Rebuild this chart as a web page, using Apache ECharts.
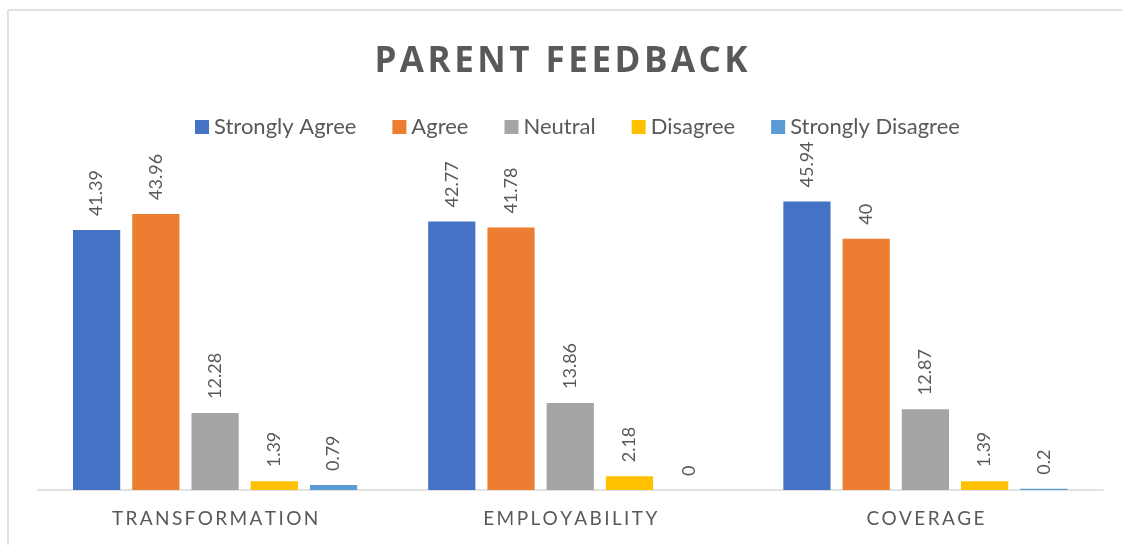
<!DOCTYPE html>
<html>
<head>
<meta charset="utf-8">
<script src="https://cdn.jsdelivr.net/npm/echarts@6/dist/echarts.min.js"></script>
<style>
html,body{margin:0;padding:0;background:#fff;}
#chart{width:1122px;height:545px;}
</style>
</head>
<body>
<div id="chart"></div>
<script>
const titleText = 'PARENT FEEDBACK';
const categories = ['TRANSFORMATION', 'EMPLOYABILITY', 'COVERAGE'];
const seriesNames = ['Strongly Agree', 'Agree', 'Neutral', 'Disagree', 'Strongly Disagree'];
const stronglyAgree = [41.39, 42.77, 45.94];
const agree = [43.96, 41.78, 40];
const neutral = [12.28, 13.86, 12.87];
const disagree = [1.39, 2.18, 1.39];
const stronglyDisagree = [0.79, 0, 0.2];
const colors = ['#4472C4', '#ED7D31', '#A5A5A5', '#FFC000', '#5B9BD5'];

const allValues = [stronglyAgree, agree, neutral, disagree, stronglyDisagree];
const spaced = (s, sp) => s.split('').join(sp);
const FONT = 'Lato, "Open Sans", sans-serif';

const chart = echarts.init(document.getElementById('chart'));
chart.setOption({
  animation: false,
  color: colors,
  title: {
    text: spaced(titleText, '\u200A'),
    left: 'center',
    top: 40,
    textStyle: { fontFamily: '"Open Sans", sans-serif', fontWeight: 'bold', fontSize: 35, color: '#595959' }
  },
  legend: {
    top: 111,
    left: 190,
    icon: 'rect',
    itemWidth: 14,
    itemHeight: 14,
    itemGap: 36,
    textStyle: { fontFamily: FONT, fontSize: 22, color: '#595959' },
    data: seriesNames
  },
  grid: { left: 37.5, right: 19, top: 176, bottom: 55, containLabel: false },
  xAxis: {
    type: 'category',
    data: categories,
    axisLine: { lineStyle: { color: '#D9D9D9', width: 1.5 } },
    axisTick: { show: false },
    axisLabel: {
      margin: 19,
      fontFamily: FONT,
      fontSize: 19,
      color: '#595959',
      formatter: v => spaced(v, '\u2009')
    }
  },
  yAxis: {
    type: 'value',
    min: 0,
    max: 50,
    show: false,
    splitLine: { show: false }
  },
  graphic: [
    { type: 'line', shape: { x1: 8, y1: 10, x2: 8, y2: 545 }, style: { stroke: '#D9D9D9', lineWidth: 1.5 } },
    { type: 'line', shape: { x1: 8, y1: 10, x2: 1122, y2: 10 }, style: { stroke: '#D9D9D9', lineWidth: 1.5 } }
  ],
  series: seriesNames.map((name, i) => ({
    name: name,
    type: 'bar',
    data: allValues[i],
    barGap: '25.5%',
    barCategoryGap: '20%',
    label: {
      show: true,
      position: 'top',
      rotate: 90,
      align: 'left',
      verticalAlign: 'middle',
      distance: 14,
      fontFamily: FONT,
      fontSize: 18,
      color: '#595959'
    }
  }))
});
</script>
</body>
</html>
